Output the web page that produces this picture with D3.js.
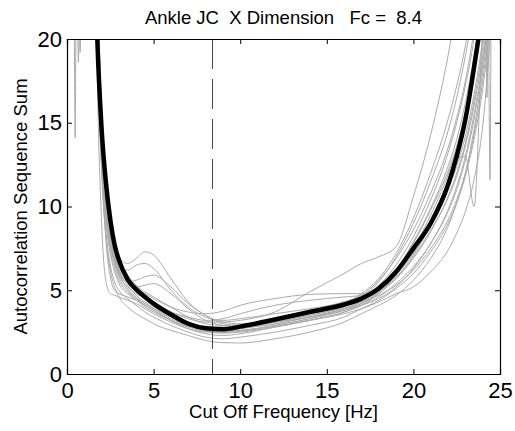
<!DOCTYPE html>
<html><head><meta charset="utf-8">
<script src="https://cdn.jsdelivr.net/npm/d3@7"></script>
<style>body{margin:0;background:#fff}svg{display:block}</style>
</head><body>
<svg id="c" width="515" height="431"></svg>
<script>
const titleText = "Ankle JC  X Dimension   Fc =  8.4";
const xLabel = "Cut Off Frequency [Hz]";
const yLabel = "Autocorrelation Sequence Sum";
const xTicks = [0, 5, 10, 15, 20, 25];
const yTicks = [0, 5, 10, 15, 20];
const cutoff = 8.4;

const freqs = [1.5,1.75,2,2.25,2.5,2.75,3,3.5,4,4.5,5,6,7,8,9,10,12,14,16,17,18,19,20,21,22,22.5,23,23.5,24,24.5];
const meanCurve = [30,20,14.6,11.4,9.2,7.7,6.8,5.65,5.05,4.6,4.2,3.55,3.0,2.73,2.67,2.83,3.25,3.7,4.15,4.5,5.1,6.1,7.5,9.0,11.3,13.0,15.2,18.3,22,28];

const trialA = [40,24,13,8,5.8,5.0,4.8,4.6,4.4,4.1,3.8,3.2,2.7,2.4,2.3,2.4,2.8,3.2,3.7,4.1,4.6,5.4,6.4,7.8,9.7,11.0,12.8,15.2,18.5,23];
const trialB = [40,22,15,11.5,9.2,7.9,7.0,6.6,6.9,7.3,7.1,5.7,4.3,3.5,3.1,3.0,3.2,3.6,4.1,4.6,5.5,7.0,9.0,11.5,14.5,16.5,19,22,26,30];
const trialC = [40,23,14,10.6,8.5,7.3,6.5,6.2,6.5,6.6,6.3,5.0,4.0,3.4,3.2,3.3,3.6,3.9,4.3,4.7,5.6,6.9,8.6,10.8,13.5,15.3,17.5,20.5,24,28];
const trialD = [40,21,13.5,10,8,6.8,6.0,5.5,5.6,5.8,5.9,5.2,4.2,3.5,3.0,2.9,3.1,3.4,3.9,4.3,4.9,5.9,7.4,9.2,11.5,13.0,15.0,17.8,21.5,26];
const trialE = [40,25,15,11,8.6,7.2,6.3,5.5,5.2,5.3,5.4,4.8,3.9,3.2,2.9,2.8,3.0,3.4,3.8,4.1,4.5,5.2,6.3,7.8,9.8,11.2,13.0,15.5,18.6,23];
const trialF = [40,22,14,10.8,8.7,7.4,6.6,5.6,5.0,4.6,4.3,3.7,3.3,3.1,3.1,3.2,3.7,4.9,6.0,6.6,7.0,7.6,10.6,14.3,19.0,22,26,30,34,38];
const trialG = [40,20,12,8.2,6.2,5.2,4.6,4.0,3.6,3.3,3.0,2.6,2.3,2.0,1.87,1.85,2.1,2.5,3.1,3.6,4.1,4.7,5.6,6.9,8.8,10.2,12.0,14.6,18.0,22];
const trialH = [40,21,12.5,8.5,6.5,5.5,5.0,4.5,4.1,3.7,3.4,2.9,2.5,2.2,2.1,2.2,2.5,2.9,3.4,3.9,4.4,5.1,6.0,7.3,9.0,10.2,11.8,14.0,17.0,21.5];
const trialI = [40,23,14,10,7.8,6.6,5.8,5.0,4.5,4.1,3.8,3.2,2.8,2.55,2.5,2.6,2.9,3.3,3.8,4.2,4.8,5.7,7.1,8.9,11.3,13.0,15.3,18.4,22.5,28];
const trialJ = [40,24,16,12,9.6,8.0,7.0,5.9,5.1,4.6,4.2,3.5,3.0,2.7,2.65,2.75,3.1,3.5,4.0,4.4,5.1,6.2,7.9,9.9,12.4,14.0,16.2,19.0,22.5,27];
const trialK = [40,18,9,5.5,4.8,4.7,4.6,4.4,4.2,3.9,3.6,3.1,2.7,2.5,2.45,2.55,2.9,3.3,3.9,4.3,4.7,5.3,6.2,7.5,9.2,10.4,12.0,14.3,17.5,22];
const trialL = [40,22,14.5,11,8.8,7.5,6.6,5.7,5.1,4.8,4.5,4.0,3.7,3.6,3.75,4.1,4.5,4.75,4.8,4.8,5.1,5.8,7.0,8.6,10.5,11.8,13.6,16.0,19.0,23];
const trialM = [40,21,13,9.6,7.7,6.6,5.9,5.2,4.8,4.5,4.2,3.7,3.4,3.2,3.3,3.6,4.1,4.4,4.6,4.7,5.0,5.7,6.9,8.5,10.6,12.0,13.8,16.3,19.5,24];
const trialN = [40,24,15,11.2,9.0,7.6,6.8,5.9,5.3,4.9,4.6,4.0,3.4,3.0,2.9,2.95,3.2,3.6,4.1,4.6,5.3,6.5,8.2,10.4,13.2,15.0,17.2,20,24,28];
const trialO = [40,20,12.5,9.0,7.2,6.1,5.4,4.8,4.4,4.0,3.7,3.2,2.85,2.6,2.55,2.7,3.0,3.4,3.9,4.2,4.9,6.1,7.8,9.8,12.1,13.6,15.6,18.6,22.5,28];
const trialP = [40,22,13.8,10.2,8.2,7.0,6.2,5.4,4.9,4.5,4.1,3.5,3.1,2.8,2.7,2.8,3.1,3.5,4.0,4.4,5.0,5.9,7.2,8.9,11.0,12.4,14.2,16.7,20,25];
const trialQ = [40,23,14.5,10.8,8.7,7.4,6.5,5.6,5.0,4.6,4.25,3.6,3.1,2.85,2.8,2.9,3.3,3.7,4.2,4.8,5.7,7.2,9.3,12.0,15.2,17.2,19.6,23,27,31];
const trialR = [40,21,13,9.4,7.4,6.3,5.6,4.9,4.5,4.2,3.9,3.4,3.0,2.75,2.6,2.6,2.85,3.2,3.6,3.9,4.3,4.8,5.2,6.1,7.4,8.4,9.7,11.6,14.8,21];
const trialS = [40,22,13.5,10,8,6.8,6.1,5.3,4.7,4.3,4.0,3.4,2.9,2.6,2.45,2.5,2.8,3.2,3.7,4.1,4.8,5.9,7.5,9.5,11.9,13.5,15.6,18.5,22,27];
const trialT = [40,22,13.2,9.8,7.9,6.7,6.0,5.1,4.6,4.2,3.9,3.3,2.9,2.7,2.7,2.9,3.3,3.8,4.3,4.6,5.2,6.1,7.4,9.0,11.2,12.8,13.0,10.0,21,30];
// short excursions at the edges (x, y pairs)
const edgeSpikes = [
  [[0.40,26],[0.47,14.1],[0.53,26]],
  [[0.58,24],[0.66,18.6],[0.74,24]],
  [[0.70,23],[0.76,19.2],[0.82,23]],
  [[24.32,26],[24.42,11.6],[24.50,26]],
  [[24.15,26],[24.25,16.5],[24.33,26]]
];

const trials = [trialA,trialB,trialC,trialD,trialE,trialF,trialG,trialH,trialI,trialJ,trialK,trialL,trialM,trialN,trialO,trialP,trialQ,trialR,trialS,trialT];

const svg = d3.select("#c");
const m = {l:67, r:500, t:39, b:374};
const x = d3.scaleLinear().domain([0,25]).range([m.l, m.r]);
const y = d3.scaleLinear().domain([0,20]).range([m.b, m.t]);

svg.append("defs").append("clipPath").attr("id","clip")
  .append("rect").attr("x",m.l).attr("y",m.t).attr("width",m.r-m.l).attr("height",m.b-m.t);

const g = svg.append("g").attr("clip-path","url(#clip)");
const line = d3.line().x(d=>x(d[0])).y(d=>y(d[1])).curve(d3.curveMonotoneX);

trials.forEach(t => {
  g.append("path").attr("d", line(freqs.map((f,i)=>[f,t[i]])))
    .attr("fill","none").attr("stroke","#ababab").attr("stroke-width",1);
});
edgeSpikes.forEach(s => {
  g.append("path").attr("d", d3.line().x(d=>x(d[0])).y(d=>y(d[1])).curve(d3.curveCatmullRom)(s))
    .attr("fill","none").attr("stroke","#ababab").attr("stroke-width",1);
});

g.append("line").attr("x1",x(cutoff)).attr("x2",x(cutoff)).attr("y1",m.t).attr("y2",m.b)
  .attr("stroke","#444").attr("stroke-width",1).attr("stroke-dasharray","30,10");

g.append("path").attr("d", line(freqs.map((f,i)=>[f,meanCurve[i]])))
  .attr("fill","none").attr("stroke","#000").attr("stroke-width",4.5);

// axes box
const ax = svg.append("g");
const font = "Liberation Sans, Arial, sans-serif";
const xb = d3.axisBottom(x).tickValues(xTicks).tickSize(-5).tickPadding(8).tickFormat(d3.format("d"));
const xt = d3.axisTop(x).tickValues(xTicks).tickSize(-5).tickFormat("");
const yl = d3.axisLeft(y).tickValues(yTicks).tickSize(-5).tickPadding(5).tickFormat(d3.format("d"));
const yr = d3.axisRight(y).tickValues(yTicks).tickSize(-5).tickFormat("");
[[xb,`translate(0,${m.b})`],[xt,`translate(0,${m.t})`],[yl,`translate(${m.l},0)`],[yr,`translate(${m.r},0)`]].forEach(([a,tr])=>{
  const s = ax.append("g").attr("transform",tr).call(a);
  s.select(".domain").attr("stroke","#000").attr("stroke-width",1.2);
  s.selectAll(".tick line").attr("stroke","#000");
  s.selectAll("text").attr("font-family",font).attr("font-size",22).attr("fill","#000");
});

svg.append("text").attr("x",(m.l+m.r)/2).attr("y",24).attr("text-anchor","middle")
  .attr("font-family",font).attr("font-size",18.5).text(titleText).style("white-space","pre");
svg.append("text").attr("x",(m.l+m.r)/2).attr("y",418).attr("text-anchor","middle")
  .attr("font-family",font).attr("font-size",18.5).text(xLabel);
svg.append("text").attr("transform",`translate(27,${(m.t+m.b)/2}) rotate(-90)`).attr("text-anchor","middle")
  .attr("font-family",font).attr("font-size",18.5).text(yLabel);
</script>
</body></html>
